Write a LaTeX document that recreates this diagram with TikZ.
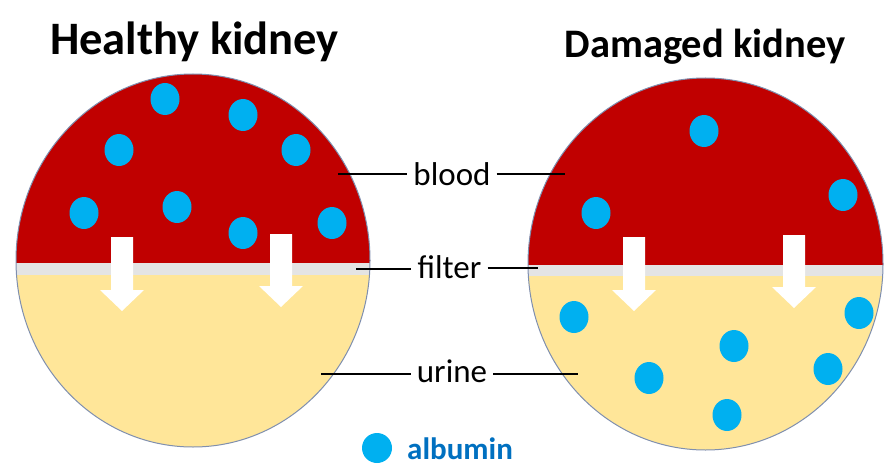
\documentclass[tikz,border=0pt]{standalone}
\usepackage{fontspec}
\setmainfont{Carlito}
\usetikzlibrary{positioning}
\definecolor{bloodred}{HTML}{C00000}
\definecolor{urineyellow}{HTML}{FFE699}
\definecolor{filtergrey}{HTML}{E4E4E4}
\definecolor{albuminblue}{HTML}{00B0F0}
\definecolor{legendblue}{HTML}{0070C0}
\definecolor{rimgrey}{HTML}{7F8FAF}
% white block arrow: centre x, top y, tip y
\newcommand{\flowarrow}[3]{%
  \fill[white] (#1-11,#2) -- (#1+11,#2) -- (#1+11,#3-21) -- (#1+22,#3-21)
    -- (#1,#3) -- (#1-22,#3-21) -- (#1-11,#3-21) -- cycle;}

\begin{document}
\begin{tikzpicture}[x=1pt, y=-1pt,
  title/.style={font=\fontsize{46.5}{46.5}\selectfont\bfseries, inner sep=0pt, anchor=base},
  tag/.style={font=\fontsize{33}{33}\selectfont, inner sep=6pt, anchor=base},
  leader/.style={line width=1.8pt},
  rim/.style={draw=rimgrey, line width=1pt},
  albumin/.style={fill=albuminblue}
]
  \useasboundingbox (0,0) rectangle (885,468);

  % Healthy kidney: blood above, filter band, urine below
  \begin{scope}
    \clip (193,260.5) ellipse [x radius=177pt, y radius=186.5pt];
    \fill[bloodred]    (0,0)   rectangle (400,263);
    \fill[filtergrey]  (0,263) rectangle (400,275);
    \fill[urineyellow] (0,275) rectangle (400,468);
  \end{scope}
  \draw[rim] (193,260.5) ellipse [x radius=177pt, y radius=186.5pt];
  \foreach \x/\y in {165/99, 243/115, 119/150, 296/150, 84/213, 177/207, 243/233, 332/223}
    \fill[albumin] (\x,\y) ellipse [x radius=14.5pt, y radius=16pt];
  \flowarrow{122}{237}{311}
  \flowarrow{281}{234}{307}

  % Damaged kidney: albumin leaks into the urine
  \begin{scope}
    \clip (705.5,264) ellipse [x radius=177.5pt, y radius=186pt];
    \fill[bloodred]    (500,0)   rectangle (885,265);
    \fill[filtergrey]  (500,265) rectangle (885,276);
    \fill[urineyellow] (500,276) rectangle (885,468);
  \end{scope}
  \draw[rim] (705.5,264) ellipse [x radius=177.5pt, y radius=186pt];
  \foreach \x/\y in {704/131, 843/195, 596/213, 574/317, 734/346, 649/378, 859/313, 828/369, 727/415}
    \fill[albumin] (\x,\y) ellipse [x radius=14.5pt, y radius=16pt];
  \flowarrow{634}{237}{311}
  \flowarrow{794}{235}{308}

  % Titles
  \node[title] (healthy) at (194.5,55) {Healthy kidney};
  \node[title, font=\fontsize{40.5}{40.5}\selectfont\bfseries] (damaged) at (705,58) {Damaged kidney};

  % Labels in the middle, with leader lines into both kidneys
  \node[tag] (blood)  at (452,185)   {blood};
  \node[tag] (filter) at (449.5,278) {filter};
  \node[tag] (urine)  at (452,382)   {urine};

  \coordinate (bloodL)  at (338,174);
  \coordinate (bloodR)  at (565,174);
  \coordinate (filterL) at (356,269);
  \coordinate (filterR) at (538,268);
  \coordinate (urineL)  at (321,374);
  \coordinate (urineR)  at (578,374);

  \draw[leader] (bloodL)  -- (bloodL -| blood.west);
  \draw[leader] (blood.east |- bloodR) -- (bloodR);
  \draw[leader] (filterL) -- (filterL -| filter.west);
  \draw[leader] (filter.east |- filterR) -- (filterR);
  \draw[leader] (urineL)  -- (urineL -| urine.west);
  \draw[leader] (urine.east |- urineR) -- (urineR);

  % Legend
  \fill[albumin] (377,448) circle [radius=15pt];
  \node[font=\fontsize{31}{31}\selectfont\bfseries, text=legendblue, inner sep=0pt,
        anchor=base west] (albumin) at (407,459) {albumin};
\end{tikzpicture}
\end{document}
